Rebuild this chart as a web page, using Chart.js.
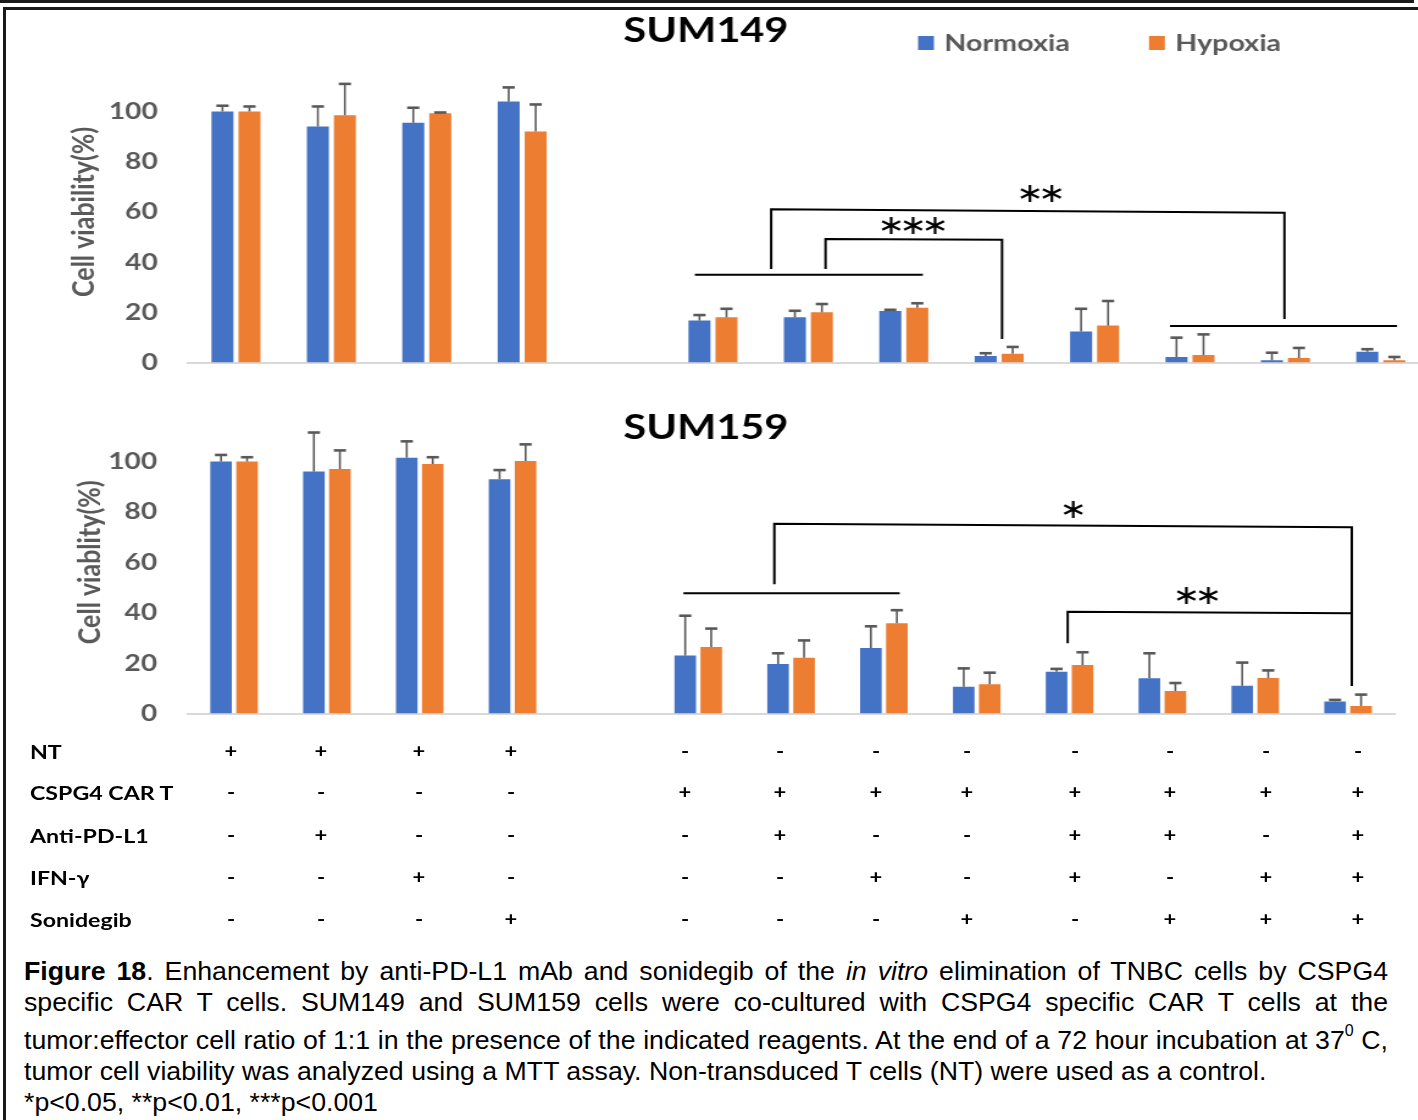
<!DOCTYPE html>
<html>
<head>
<meta charset="utf-8">
<title>Figure 18</title>
<script src="https://cdn.jsdelivr.net/npm/chart.js@4.4.1/dist/chart.umd.min.js"></script>
<style>
  html, body { margin: 0; padding: 0; background: #fff; }
  body { position: relative; width: 1418px; height: 1120px; overflow: hidden; }
  #rule { position: absolute; left: 0; top: 0; width: 1414px; height: 3px; background: #1a1a1a; }
  #frame { position: absolute; left: 3px; top: 7px; width: 1500px; height: 1200px;
           border-left: 3px solid #1a1a1a; border-top: 3px solid #1a1a1a; }
  /* the chart part of the figure is a bit stretched sideways in the original */
  #fig { position: absolute; left: 0; top: 0; width: 1181px; height: 940px;
         transform: scaleX(1.22); transform-origin: 0 0; }
  #fig canvas { position: absolute; left: 0; }
  #c149 { top: 0; }
  #c159 { top: 395px; }
  .tlabel { position: absolute; left: 24.6px; font: bold 19px Lato, sans-serif; color: #000;
            line-height: 24px; white-space: nowrap; }
  .tmark { position: absolute; width: 20px; margin-left: -10px; text-align: center;
           font: bold 18px Lato, sans-serif; color: #000; line-height: 24px; }
  .cap { position: absolute; left: 24px; width: 1364px; color: #000;
         font: 26.7px "Liberation Sans", Arial, sans-serif; line-height: 31px; }
  .just { text-align: justify; text-align-last: justify; }
  .cap sup { font-size: 16px; vertical-align: 0; position: relative; top: -13px; }
</style>
</head>
<body>
<div id="rule"></div>
<div id="frame"></div>
<div id="fig">
  <canvas id="c149" width="1181" height="395"></canvas>
  <canvas id="c159" width="1163" height="340"></canvas>
  <div id="table"></div>
</div>
<div id="caption">
  <div class="cap just" style="top:956px"><b>Figure 18</b>. Enhancement by anti-PD-L1 mAb and sonidegib of the <i>in vitro</i> elimination of TNBC cells by CSPG4</div>
  <div class="cap just" style="top:987px">specific CAR T cells. SUM149 and SUM159 cells were co-cultured with CSPG4 specific CAR T cells at the</div>
  <div class="cap just" style="top:1025px">tumor:effector cell ratio of 1:1 in the presence of the indicated reagents. At the end of a 72 hour incubation at 37<sup>0</sup> C,</div>
  <div class="cap" style="top:1056px">tumor cell viability was analyzed using a MTT assay. Non-transduced T cells (NT) were used as a control.</div>
  <div class="cap" style="top:1087px">*p&lt;0.05, **p&lt;0.01, ***p&lt;0.001</div>
</div>
<script>
// ---- data ----
const categories = ['NT', 'NT + Anti-PD-L1', 'NT + IFN-γ', 'NT + Sonidegib', '',
  'CAR T', 'CAR T + Anti-PD-L1', 'CAR T + IFN-γ', 'CAR T + Sonidegib',
  'CAR T + Anti-PD-L1 + IFN-γ', 'CAR T + Anti-PD-L1 + Sonidegib',
  'CAR T + IFN-γ + Sonidegib', 'CAR T + all'];
const seriesNames = ['Normoxia', 'Hypoxia'];
const yTicks = [0, 20, 40, 60, 80, 100];

// SUM149
const normoxia149 = [100, 94, 95.5, 104, null, 16.7, 18, 20.5, 2.6, 12.4, 2.2, 0.9, 4.3];
const hypoxia149  = [100, 98.5, 99.3, 92, null, 18, 20, 21.8, 3.5, 14.7, 3.0, 1.8, 0.9];
const errNorm149  = [2.3, 8, 6, 5.6, null, 2.2, 2.6, 0.5, 1.1, 9, 7.7, 3, 1];
const errHyp149   = [2, 12.5, 0.3, 10.8, null, 3.4, 3.3, 1.8, 2.7, 9.8, 8.2, 4, 1.3];

// SUM159
const normoxia159 = [100, 96, 101.5, 93, null, 23, 19.6, 26, 10.6, 16.6, 14, 11, 4.8];
const hypoxia159  = [100, 97, 99, 100.2, null, 26.4, 22.1, 35.8, 11.6, 19.2, 8.9, 14.1, 3];
const errNorm159  = [2.6, 15.5, 6.5, 3.6, null, 15.8, 4.3, 8.6, 7.3, 1.1, 9.9, 9.2, 0.6];
const errHyp159   = [1.7, 7.4, 2.7, 6.6, null, 7.3, 6.9, 5.2, 4.6, 5.1, 3.2, 3.0, 4.5];

// significance marks, in category index / % units: [from, to, level]
const groupLines149 = [[4.81, 7.20, 35.0], [9.79, 12.17, 14.5]];
const brackets149 = [
  { left: 5.61, right: 10.99, topL: 61.1, topR: 59.7, footL: 37.3, footR: 17.3, stars: '**', sx: 8.44, sy: 66.7 },
  { left: 6.18, right: 8.03, topL: 49.2, topR: 48.9, footL: 37.3, footR: 9.4, stars: '***', sx: 7.10, sy: 54.1 }
];
const groupLines159 = [[4.84, 7.17, 47.7]];
const brackets159 = [
  { left: 5.82, right: 12.04, topL: 75.3, topR: 73.9, footL: 51.3, footR: 10.9, stars: '*', sx: 9.04, sy: 80.5 },
  { left: 8.98, right: 12.04, topL: 40.4, topR: 39.8, footL: 27.9, footR: 39.8, stars: '**', sx: 10.38, sy: 46.1 }
];

// treatment table
const tableRows = ['NT', 'CSPG4 CAR T', 'Anti-PD-L1', 'IFN-γ', 'Sonidegib'];
const tableMarks = [
  ['+', '+', '+', '+', '-', '-', '-', '-', '-', '-', '-', '-'],
  ['-', '-', '-', '-', '+', '+', '+', '+', '+', '+', '+', '+'],
  ['-', '+', '-', '-', '-', '+', '-', '-', '+', '+', '-', '+'],
  ['-', '-', '+', '-', '-', '-', '+', '-', '+', '-', '+', '+'],
  ['-', '-', '-', '+', '-', '-', '-', '+', '-', '+', '+', '+']
];

// ---- layout ----
const S = 1.22;
const BLUE = '#4472C4', ORANGE = '#ED7D31', GREY = '#595959';
const chartFont = 'Lato, "Open Sans", sans-serif';

const overlay = {
  id: 'overlay',
  afterDatasetsDraw(chart, args, o) {
    const ctx = chart.ctx, xs = chart.scales.x, ys = chart.scales.y;
    ctx.save();
    // one-sided error bars
    ctx.strokeStyle = GREY;
    o.errors.forEach((errs, di) => {
      const vals = chart.data.datasets[di].data;
      chart.getDatasetMeta(di).data.forEach((bar, i) => {
        if (vals[i] == null || errs[i] == null) return;
        const top = ys.getPixelForValue(vals[i] + errs[i]);
        ctx.lineWidth = 1.6;
        ctx.beginPath(); ctx.moveTo(bar.x, bar.y); ctx.lineTo(bar.x, top); ctx.stroke();
        ctx.lineWidth = 2.6;
        ctx.beginPath(); ctx.moveTo(bar.x - 5, top); ctx.lineTo(bar.x + 5, top); ctx.stroke();
      });
    });
    // group lines and brackets
    ctx.strokeStyle = '#000';
    ctx.lineWidth = 2;
    o.lines.forEach(([a, b, v]) => {
      ctx.beginPath();
      ctx.moveTo(xs.getPixelForValue(a), ys.getPixelForValue(v));
      ctx.lineTo(xs.getPixelForValue(b), ys.getPixelForValue(v));
      ctx.stroke();
    });
    ctx.fillStyle = '#000';
    ctx.font = '27px "DejaVu Sans"';
    ctx.textAlign = 'center';
    ctx.textBaseline = 'middle';
    o.brackets.forEach(br => {
      const xl = xs.getPixelForValue(br.left), xr = xs.getPixelForValue(br.right);
      ctx.beginPath();
      ctx.moveTo(xl, ys.getPixelForValue(br.footL));
      ctx.lineTo(xl, ys.getPixelForValue(br.topL));
      ctx.lineTo(xr, ys.getPixelForValue(br.topR));
      ctx.lineTo(xr, ys.getPixelForValue(br.footR));
      ctx.stroke();
      const n = br.stars.length, cx = xs.getPixelForValue(br.sx), cy = ys.getPixelForValue(br.sy);
      for (let k = 0; k < n; k++) ctx.fillText('\u2217', cx + (k - (n - 1) / 2) * 18, cy);
    });
    ctx.restore();
  },
  afterDraw(chart, args, o) {
    const ctx = chart.ctx;
    ctx.save();
    ctx.textBaseline = 'middle';
    ctx.fillStyle = '#000';
    ctx.font = 'bold 34px ' + chartFont;
    ctx.textAlign = 'center';
    ctx.fillText(o.title, 578.7, o.titleY);
    if (o.legend) {
      ctx.textAlign = 'left';
      ctx.font = 'bold 23.5px ' + chartFont;
      chart.data.datasets.forEach((ds, i) => {
        const x0 = o.legendX[i];
        ctx.fillStyle = ds.backgroundColor;
        ctx.fillRect(x0, 36, 13, 14);
        ctx.fillStyle = GREY;
        ctx.fillText(ds.label, x0 + 21.5, 43);
      });
    }
    ctx.restore();
  }
};

function buildChart(id, c) {
  return new Chart(document.getElementById(id), {
    type: 'bar',
    data: {
      labels: categories,
      datasets: [
        { label: seriesNames[0], data: c.normoxia, backgroundColor: BLUE,
          categoryPercentage: c.catPct, barPercentage: c.barPct },
        { label: seriesNames[1], data: c.hypoxia, backgroundColor: ORANGE,
          categoryPercentage: c.catPct, barPercentage: c.barPct }
      ]
    },
    options: {
      responsive: false,
      animation: false,
      layout: { padding: c.padding },
      plugins: {
        legend: { display: false },
        title: { display: false },
        tooltip: { enabled: false },
        overlay: {
          errors: [c.errNorm, c.errHyp], lines: c.lines, brackets: c.brackets,
          title: c.title, titleY: c.titleY, legend: c.legend, legendX: [752.5, 941.8]
        }
      },
      scales: {
        x: {
          ticks: { display: false },
          grid: { display: false, drawTicks: false },
          border: { display: true, color: '#d9d9d9', width: 2 },
          afterFit: s => { s.height = 0; s.paddingLeft = 0; s.paddingRight = 0; }
        },
        y: {
          min: 0, max: 120,
          afterBuildTicks: s => { s.ticks = yTicks.map(v => ({ value: v })); },
          ticks: { padding: 25, color: GREY, font: { family: chartFont, size: 23, weight: 'bold' } },
          grid: { display: false, drawTicks: false },
          border: { display: false },
          title: {
            display: true, text: c.yTitle, color: GREY,
            font: { family: chartFont, size: 25, weight: 'bold' },
            padding: { top: c.yTitlePad, bottom: 0 }
          },
          afterFit: s => { s.width = c.axisWidth; s.paddingTop = 0; s.paddingBottom = 0; }
        }
      }
    },
    plugins: [overlay]
  });
}

buildChart('c149', {
  normoxia: normoxia149, hypoxia: hypoxia149, errNorm: errNorm149, errHyp: errHyp149,
  lines: groupLines149, brackets: brackets149,
  title: 'SUM149', titleY: 31, legend: true,
  yTitle: 'Cell viability(%)', yTitlePad: 54,
  axisWidth: 154.3, padding: { top: 61.3, bottom: 32.5, left: 0, right: 10.1 },
  catPct: 0.566, barPct: 0.815
});

buildChart('c159', {
  normoxia: normoxia159, hypoxia: hypoxia159, errNorm: errNorm159, errHyp: errHyp159,
  lines: groupLines159, brackets: brackets159,
  title: 'SUM159', titleY: 33, legend: false,
  yTitle: 'Cell viablity(%)', yTitlePad: 59,
  axisWidth: 153.8, padding: { top: 16.1, bottom: 21.5, left: 0, right: 20.0 },
  catPct: 0.56, barPct: 0.83
});

// treatment table below the charts
const tableCols = [231, 321, 419, 511, 685, 780, 876, 967, 1075, 1170, 1266, 1358];
const rowCentres = [752, 793, 836, 878, 920];
const table = document.getElementById('table');
tableRows.forEach((name, r) => {
  const lab = document.createElement('div');
  lab.className = 'tlabel';
  lab.style.top = (rowCentres[r] - 12) + 'px';
  lab.textContent = name;
  table.appendChild(lab);
  tableMarks[r].forEach((m, k) => {
    const d = document.createElement('div');
    d.className = 'tmark';
    d.style.top = (rowCentres[r] - 13) + 'px';
    d.style.left = (tableCols[k] / S) + 'px';
    d.textContent = m;
    table.appendChild(d);
  });
});
</script>
</body>
</html>
